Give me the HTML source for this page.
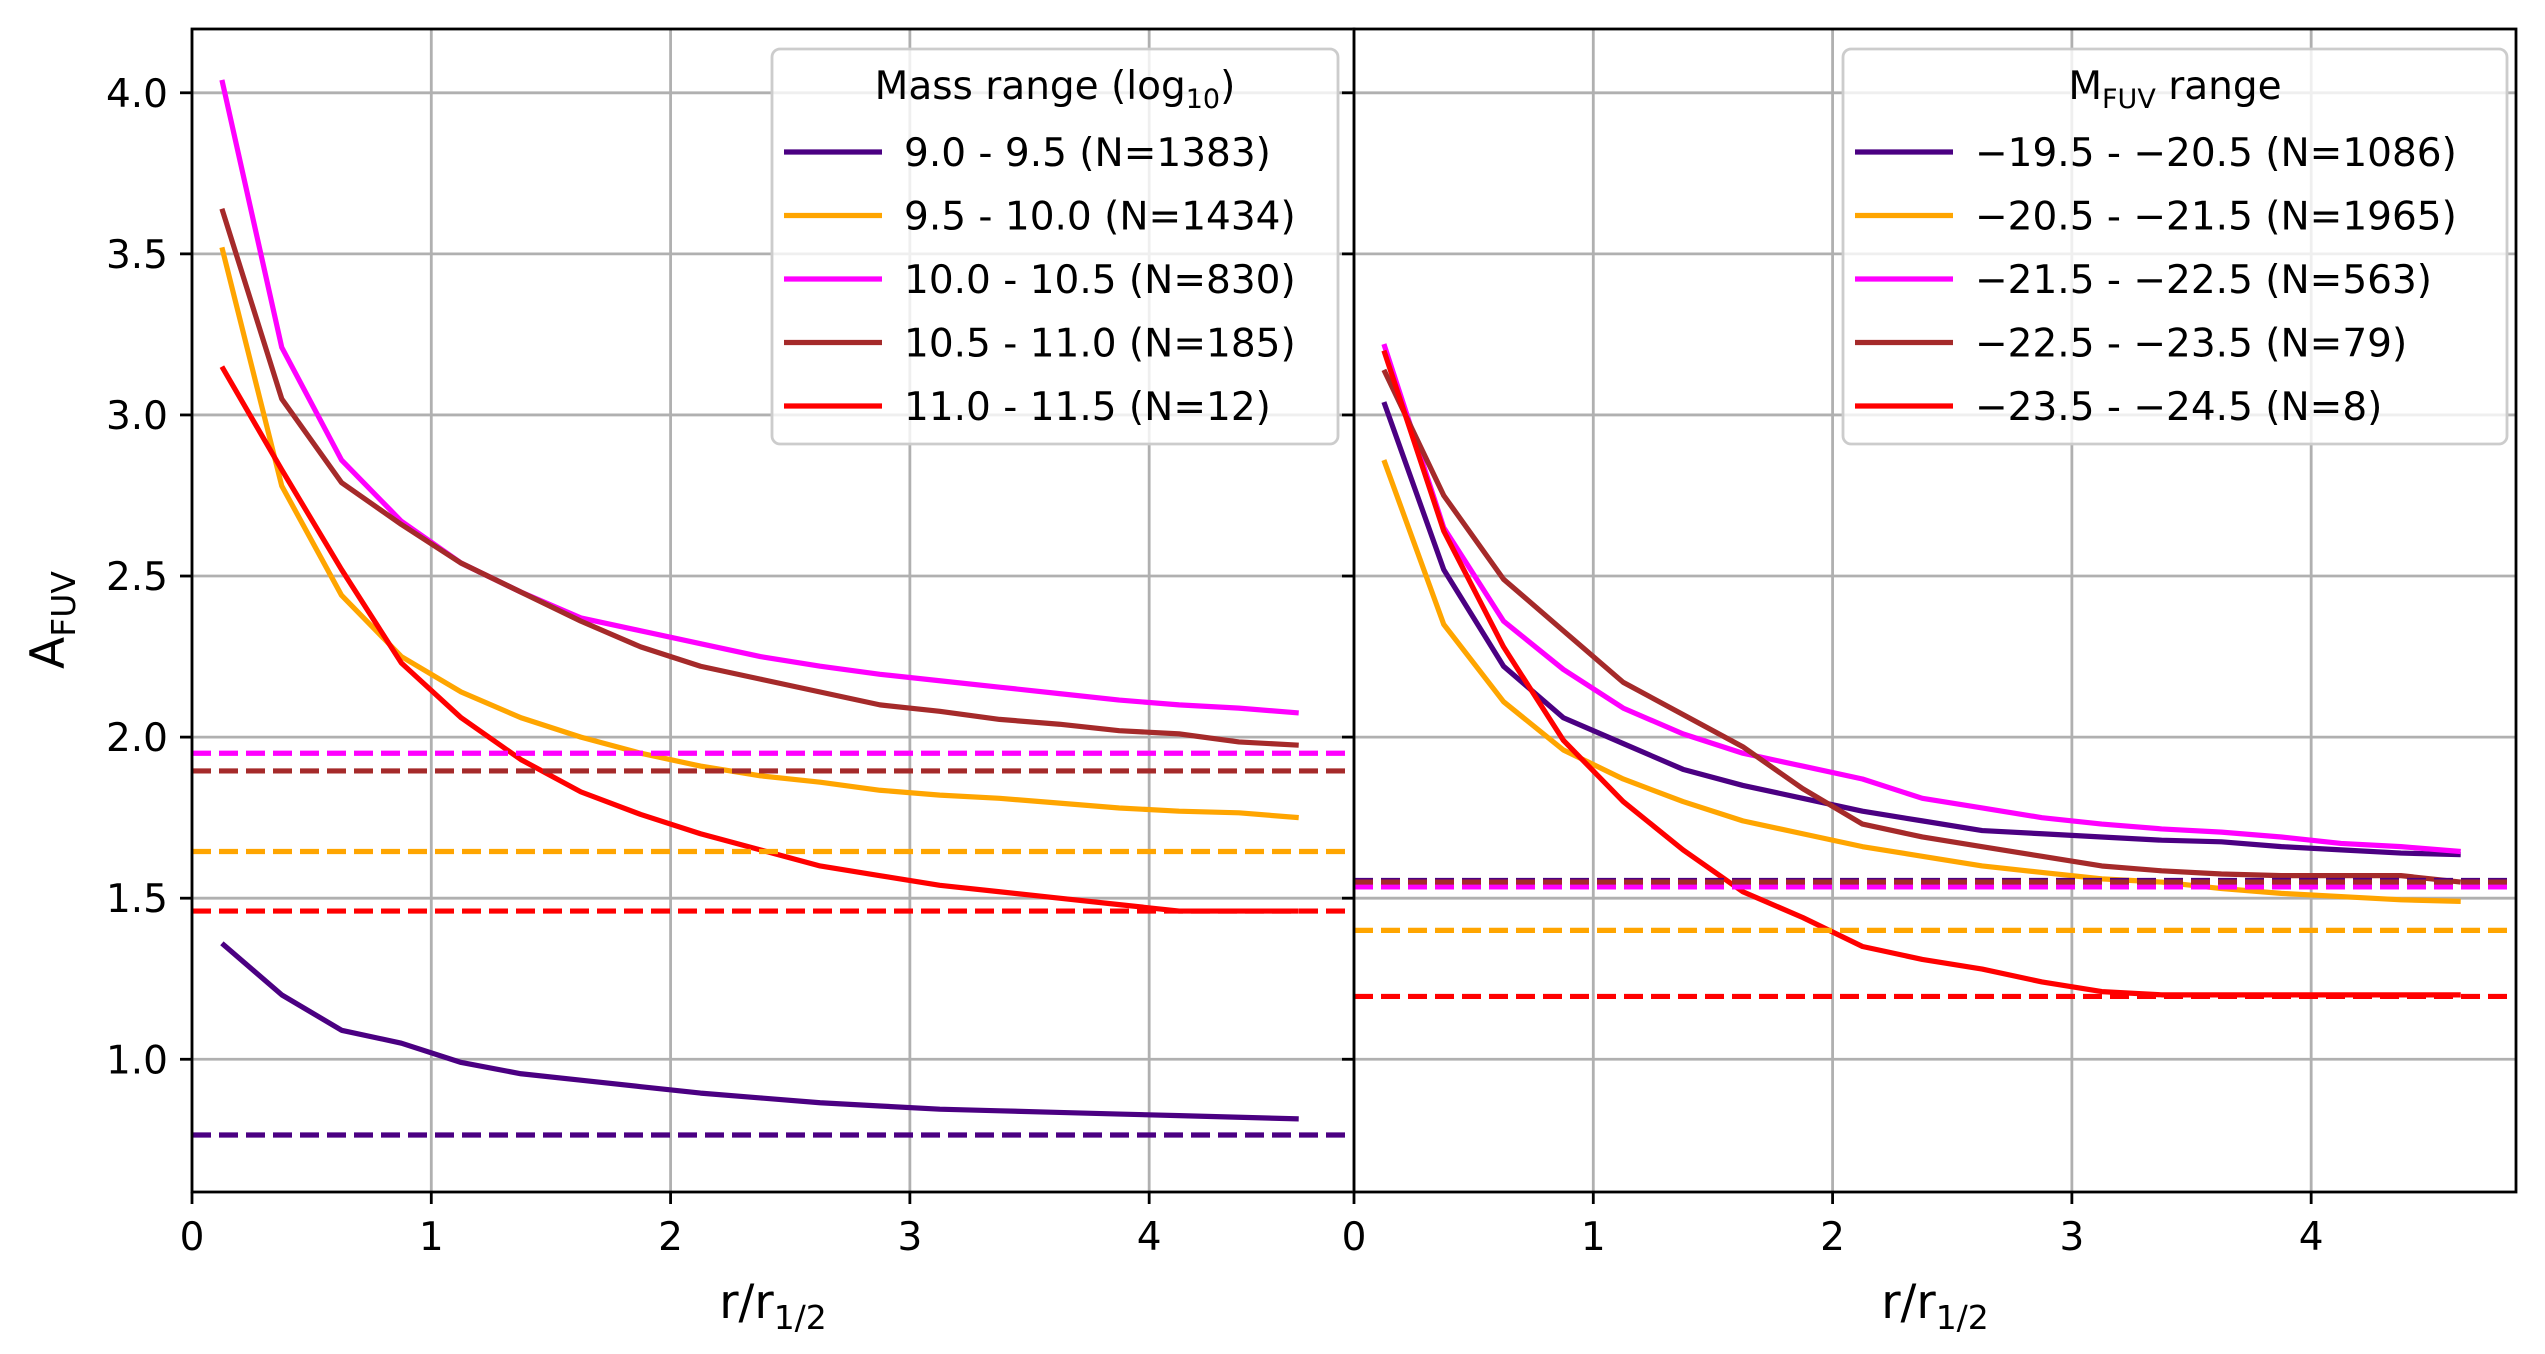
<!DOCTYPE html>
<html><head><meta charset="utf-8"><style>
html,body{margin:0;padding:0;background:#fff;}
svg{display:block;font-family:"DejaVu Sans","Liberation Sans",sans-serif;}
</style></head><body>
<svg id="fig" width="2545" height="1354" viewBox="0 0 2545 1354" xmlns="http://www.w3.org/2000/svg"></svg>
<script>
const xs = [0.125,0.375,0.625,0.875,1.125,1.375,1.625,1.875,2.125,2.375,2.625,2.875,3.125,3.375,3.625,3.875,4.125,4.375,4.625];
const colors = ["#4b0082","#ffa500","#ff00ff","#a52a2a","#ff0000"];
const leftLabels = ["9.0 - 9.5 (N=1383)","9.5 - 10.0 (N=1434)","10.0 - 10.5 (N=830)","10.5 - 11.0 (N=185)","11.0 - 11.5 (N=12)"];
const rightLabels = ["\u221219.5 - \u221220.5 (N=1086)","\u221220.5 - \u221221.5 (N=1965)","\u221221.5 - \u221222.5 (N=563)","\u221222.5 - \u221223.5 (N=79)","\u221223.5 - \u221224.5 (N=8)"];
const leftSeries = [
 [1.36,1.20,1.09,1.05,0.99,0.955,0.935,0.915,0.895,0.88,0.865,0.855,0.845,0.84,0.835,0.83,0.825,0.82,0.815],
 [3.52,2.78,2.44,2.25,2.14,2.06,2.00,1.95,1.91,1.88,1.86,1.835,1.82,1.81,1.795,1.78,1.77,1.765,1.75],
 [4.04,3.21,2.86,2.67,2.54,2.45,2.37,2.33,2.29,2.25,2.22,2.195,2.175,2.155,2.135,2.115,2.10,2.09,2.075],
 [3.64,3.05,2.79,2.66,2.54,2.45,2.36,2.28,2.22,2.18,2.14,2.10,2.08,2.055,2.04,2.02,2.01,1.985,1.975],
 [3.15,2.83,2.52,2.23,2.06,1.93,1.83,1.76,1.70,1.65,1.60,1.57,1.54,1.52,1.50,1.48,1.46,1.46,1.46]
];
const leftMeans = [0.765,1.645,1.95,1.895,1.46];
const rightSeries = [
 [3.04,2.52,2.22,2.06,1.98,1.90,1.85,1.81,1.77,1.74,1.71,1.70,1.69,1.68,1.675,1.66,1.65,1.64,1.635],
 [2.86,2.35,2.11,1.96,1.87,1.80,1.74,1.70,1.66,1.63,1.60,1.58,1.56,1.55,1.53,1.515,1.505,1.495,1.49],
 [3.22,2.65,2.36,2.21,2.09,2.01,1.95,1.91,1.87,1.81,1.78,1.75,1.73,1.715,1.705,1.69,1.67,1.66,1.645],
 [3.14,2.75,2.49,2.33,2.17,2.07,1.97,1.84,1.73,1.69,1.66,1.63,1.60,1.585,1.575,1.57,1.57,1.57,1.55],
 [3.20,2.64,2.28,1.99,1.80,1.65,1.52,1.44,1.35,1.31,1.28,1.24,1.21,1.20,1.20,1.20,1.20,1.20,1.20]
];
const rightMeans = [1.555,1.40,1.535,1.55,1.195];
const xTicks = [0,1,2,3,4];
const yTicks = [1.0,1.5,2.0,2.5,3.0,3.5,4.0];

const NS="http://www.w3.org/2000/svg";
const svg=document.getElementById('fig');
function mk(tag,attrs,parent){const e=document.createElementNS(NS,tag);for(const k in attrs)e.setAttribute(k,attrs[k]);(parent||svg).appendChild(e);return e;}
const Y0=0.588,Y1=4.198,X0=0,X1=4.856;
const topY=29,botY=1192;
function yS(v){return botY-(v-Y0)/(Y1-Y0)*(botY-topY);}

function panel(left,right,series,means,labels,name,showY,legX,legW,title){
  const xS=v=>left+(v-X0)/(X1-X0)*(right-left);
  const g=mk('g',{});
  
  
  xTicks.forEach(t=>{
    const l=mk('line',{x1:xS(t),x2:xS(t),y1:topY,y2:botY,stroke:'#b0b0b0','stroke-width':2.8},g);
    
    
    mk('line',{x1:xS(t),x2:xS(t),y1:botY,y2:botY+12,stroke:'#000','stroke-width':2.8},g);
    const tx=mk('text',{x:xS(t),y:botY+58,'font-size':39,'text-anchor':'middle'},g);
    tx.textContent=t;
    
    
  });
  yTicks.forEach(t=>{
    const l=mk('line',{x1:left,x2:right,y1:yS(t),y2:yS(t),stroke:'#b0b0b0','stroke-width':2.8},g);
    
    
    mk('line',{x1:left-12,x2:left,y1:yS(t),y2:yS(t),stroke:'#000','stroke-width':2.8},g);
    if(showY){
      const tx=mk('text',{x:left-24,y:yS(t)+14,'font-size':39,'text-anchor':'end'},g);
      tx.textContent=t.toFixed(1);
      
      
    }
  });
  series.forEach((s,i)=>{
    const p=mk('polyline',{points:s.map((v,j)=>xS(xs[j])+','+yS(v)).join(' '),fill:'none',stroke:colors[i],'stroke-width':5.2,'stroke-linejoin':'round'},g);
    
    
  });
  means.forEach((m,i)=>{
    const l=mk('line',{x1:left,x2:right,y1:yS(m),y2:yS(m),stroke:colors[i],'stroke-width':5.2,'stroke-dasharray':'19 8'},g);
    
    
  });
  const fr=mk('rect',{x:left,y:topY,width:right-left,height:botY-topY,fill:'none',stroke:'#000','stroke-width':2.8},g);
  
  
  const xl=mk('text',{x:(left+right)/2,y:1318,'font-size':47,'text-anchor':'middle'},g);
  xl.innerHTML='r/r<tspan font-size="33" dy="11">1/2</tspan>';
  
  
  const lg=mk('g',{},g);
  
  
  mk('rect',{x:legX,y:49,width:legW,height:395,rx:8,fill:'#fff','fill-opacity':0.8,stroke:'#cccccc','stroke-width':2.8},lg);
  const tt=mk('text',{x:legX+legW/2,y:99,'font-size':39,'text-anchor':'middle'},lg);
  tt.innerHTML=title;
  
  
  labels.forEach((lab,i)=>{
    const yy=152+i*63.5;
    const e=mk('g',{},lg);
    
    
    mk('line',{x1:legX+12,x2:legX+110,y1:yy,y2:yy,stroke:colors[i],'stroke-width':5.2},e);
    const t=mk('text',{x:legX+132,y:yy+14,'font-size':39},e);
    t.textContent=lab;
  });
}
panel(192,1354,leftSeries,leftMeans,leftLabels,'left-panel-mass',true,772,566,'Mass range (log<tspan font-size="27" dy="9">10</tspan><tspan dy="-9">)</tspan>');
panel(1354,2516,rightSeries,rightMeans,rightLabels,'right-panel-mfuv',false,1843,664,'M<tspan font-size="27" dy="9">FUV</tspan><tspan dy="-9"> range</tspan>');
const yl=mk('text',{x:0,y:0,'font-size':47,'text-anchor':'middle',transform:'translate(64,620) rotate(-90)'});
yl.innerHTML='A<tspan font-size="33" dy="11">FUV</tspan>';


</script>
</body></html>
